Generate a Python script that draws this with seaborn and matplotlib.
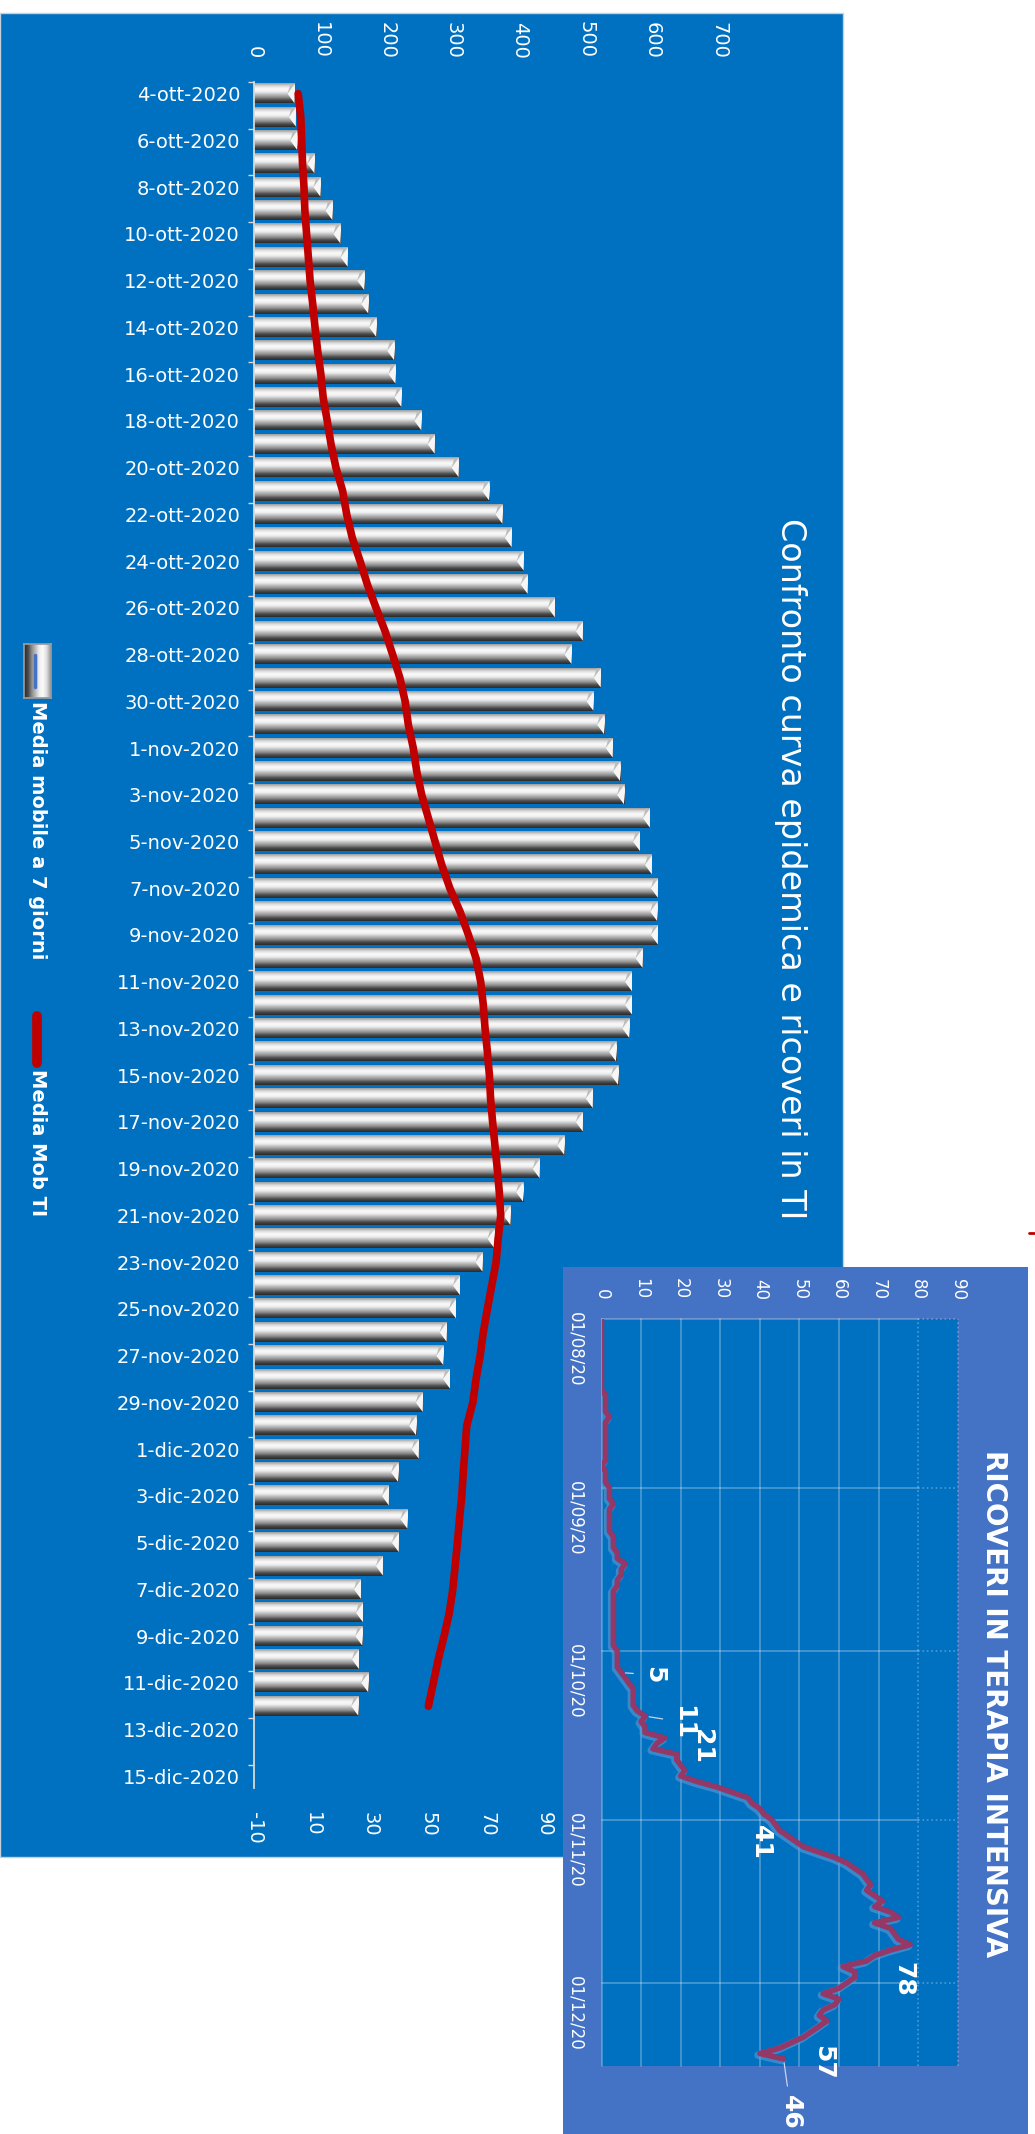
import matplotlib
matplotlib.use('Agg')
import matplotlib.pyplot as plt
import matplotlib.patheffects as pe
from matplotlib.colors import LinearSegmentedColormap
from matplotlib.patches import Rectangle, Polygon
from matplotlib.lines import Line2D
import seaborn as sns
import numpy as np
import pandas as pd

# casi: media mobile a 7 giorni (barre), dal 4-ott-2020 al 12-dic-2020
casi = [61, 63, 65, 91, 100, 118, 130, 141, 166, 172, 184, 211, 213, 222, 252, 272, 308, 354,
        374, 388, 406, 412, 453, 495, 478, 522, 511, 527, 540, 551, 557, 596, 581, 599, 608, 607,
        608, 585, 569, 569, 565, 545, 548, 510, 495, 467, 430, 405, 386, 362, 344, 310, 304, 290,
        285, 295, 254, 244, 248, 217, 203, 231, 218, 194, 161, 164, 163, 158, 172, 157]
# media mobile terapia intensiva (linea rossa, asse secondario)
media_ti = [5.2, 6.1, 6.4, 6.7, 7.2, 7.5, 8.1, 8.7, 9.3, 10.2, 11.0, 11.9, 13.0, 13.8, 15.2, 16.5, 18.2, 20.5,
            21.9, 23.8, 26.5, 29.0, 32.0, 35.1, 37.7, 40.2, 42.0, 43.1, 44.8, 46.0, 47.7, 50.0, 52.3, 54.6, 57.4, 60.9,
            63.8, 66.4, 68.0, 68.9, 69.5, 70.3, 71.0, 71.4, 72.1, 72.9, 73.7, 74.4, 74.9, 74.0, 73.3, 71.8, 70.3, 68.9,
            67.8, 66.4, 65.3, 63.2, 62.6, 62.0, 61.5, 60.7, 60.0, 59.2, 58.4, 57.2, 55.4, 53.4, 51.7, 50.0]
primo_giorno = '2020-10-04'
ultimo_giorno = '2020-12-15'
mesi_it = {10: 'ott', 11: 'nov', 12: 'dic'}
asse_sx = [0, 100, 200, 300, 400, 500, 600, 700]
asse_dx = [-10, 10, 30, 50, 70, 90, 110, 130, 150]

# ricoveri giornalieri in terapia intensiva (riquadro), dal 01/08/20
ti_ago = [0] * 14 + [1, 1, 1, 1, 2] + [1] * 8 + [0, 1, 1, 1]
ti_set = [2, 2, 2, 3, 2, 2, 2, 2, 2, 3, 3, 3, 4, 4, 6, 5, 5, 4, 4, 3, 3, 3, 3, 3, 3, 3, 3, 3, 3, 3]
ti_ott = [4, 4, 4, 4, 5, 6, 7, 8, 8, 8, 8, 9, 11, 10, 11, 11, 16, 14, 13, 19, 19, 20, 21, 20, 24,
          29, 33, 37, 38, 40, 41]
ti_nov = [43, 44, 45, 47, 49, 51, 55, 59, 62, 64, 66, 67, 68, 67, 69, 71, 69, 73, 75, 69, 73, 74,
          75, 78, 73, 69, 67, 61, 64, 64]
ti_dic = [62, 60, 56, 60, 59, 56, 55, 57, 55, 53, 51, 48, 45, 40, 46]
ti_date_tick = ['01/08/20', '01/09/20', '01/10/20', '01/11/20', '01/12/20']
ti_date_pos = [0, 31, 61, 92, 122]
ti_valori_tick = [0, 10, 20, 30, 40, 50, 60, 70, 80, 90]
# giorni con etichetta dati e spostamento dell'etichetta (valore, giorni)
etichette_giorni = [65, 73, 83, 91, 115, 129, 136]
etichette_offset = [(8.3, 0.4), (9.7, 1.1), (4.3, -4.5), (-0.7, 5.3), (-1.6, 6.3), (-1.1, 7.6), (1.9, 9.8)]
etichette_leader = [True, True, False, False, False, False, True]

BLU = '#0070C0'
BLU_RIQ = '#4472C4'
ROSSO = '#C00000'
W, H = 1035, 2134

sns.set_theme(style='white')
plt.rcParams['font.family'] = ['DejaVu Sans']
plt.rcParams['axes.unicode_minus'] = False


def fx(px):
    return px / W


def fy(py):
    return 1 - py / H


fig = plt.figure(figsize=(W / 100, H / 100), dpi=100, facecolor='white')

# sfondo del grafico principale
fig.add_artist(Rectangle((0, fy(1857)), fx(843), (1857 - 13) / H, transform=fig.transFigure,
                         facecolor=BLU, edgecolor='#c5d0da', lw=1, zorder=-1))

giorni = pd.date_range(primo_giorno, ultimo_giorno)
etichette_date = [f'{d.day}-{mesi_it[d.month]}-{d.year}' for d in giorni]
df = pd.DataFrame({'giorno': np.arange(len(casi)), 'casi': casi, 'ti': media_ti})

ax = fig.add_axes([fx(254), fy(1788), (719 - 254) / W, (1788 - 82) / H])
ax.set_facecolor('none')
sns.barplot(data=df, x='casi', y='giorno', orient='y', native_scale=True, width=0.82,
            color='#c0c0c0', errorbar=None, ax=ax)

# sfumatura argento sulle barre
argento = LinearSegmentedColormap.from_list('argento', ['#9a9a9a', '#dcdcdc', '#fafafa', '#f0f0f0',
                                                        '#bdbdbd', '#8e8e8e', '#4a4a4a', '#2a2a2a'])
grad = np.linspace(0, 1, 64).reshape(-1, 1)
punta = 10.5
for p in list(ax.patches):
    x0, y0, w, h = p.get_x(), p.get_y(), p.get_width(), p.get_height()
    p.set_alpha(0)
    ax.imshow(grad, cmap=argento, aspect='auto', extent=(x0, x0 + w, y0 + h, y0),
              origin='upper', interpolation='bicubic', zorder=2)
    ax.add_patch(Polygon([(x0 + w, y0), (x0 + w, y0 + h), (x0 + w - punta, y0 + h / 2)],
                         closed=True, facecolor='#f6f6f6', edgecolor='none', zorder=3))
    ax.add_patch(Polygon([(x0 + w, y0), (x0 + w - punta, y0 + h / 2), (x0 + w - punta * 0.6, y0)],
                         closed=True, facecolor='#bcbcbc', edgecolor='none', zorder=3))

ax2 = ax.twiny()
sns.lineplot(data=df, x='ti', y='giorno', sort=False, estimator=None, color=ROSSO, lw=5.5, ax=ax2)
ax2.lines[-1].set_solid_capstyle('round')
ax2.lines[-1].set_solid_joinstyle('round')

ax.set_xlim(asse_sx[0], asse_sx[-1])
ax.xaxis.set_ticks_position('top')
ax.xaxis.set_label_position('top')
ax.set_xticks(asse_sx)
ax.set_xticklabels([str(v) for v in asse_sx], rotation=-90, color='white', fontsize=14)
ax.tick_params(axis='x', length=0, pad=17)
ax.set_yticks(np.arange(0, len(giorni), 2))
ax.set_yticklabels(etichette_date[::2], color='white', fontsize=14)
ax.set_yticks(np.arange(-0.5, len(giorni) - 1, 2), minor=True)
ax.tick_params(axis='y', which='major', length=0, pad=10)
ax.tick_params(axis='y', which='minor', length=4.5, width=1, color='#d9d9d9', left=True)
ax.set_xlabel('')
ax.set_ylabel('')
for s in ['top', 'right', 'bottom']:
    ax.spines[s].set_visible(False)
ax.spines['left'].set_color('#d9d9d9')
ax.spines['left'].set_linewidth(1.3)

ax2.set_xlim(asse_dx[0], asse_dx[-1])
ax2.xaxis.set_ticks_position('bottom')
ax2.xaxis.set_label_position('bottom')
ax2.set_xticks(asse_dx)
ax2.set_xticklabels([str(v) for v in asse_dx], rotation=-90, color='white', fontsize=14)
ax2.tick_params(axis='x', length=0, pad=17)
ax2.set_xlabel('')
ax2.set_ylabel('')
for s in ax2.spines.values():
    s.set_visible(False)
ax.set_ylim(len(giorni) - 0.5, -0.5)

fig.text(fx(790), fy(869), 'Confronto curva epidemica e ricoveri in TI', rotation=-90,
         ha='center', va='center', fontsize=24, color='white')

# legenda (ruotata come il grafico)
axl = fig.add_axes([fx(24), fy(698), 27 / W, 54 / H])
axl.imshow(np.linspace(0, 1, 32).reshape(1, -1), cmap=argento.reversed(), aspect='auto',
           interpolation='bicubic', extent=(0, 1, 0, 1))
axl.plot([0.42, 0.42], [0.2, 0.8], color='#4472C4', lw=2.5)
axl.set_xlim(0, 1)
axl.set_ylim(0, 1)
axl.set_xticks([])
axl.set_yticks([])
for s in axl.spines.values():
    s.set_color('#9a9a9a')
fig.text(fx(37), fy(701), 'Media mobile a 7 giorni', rotation=-90, ha='center', va='top',
         fontsize=14, fontweight='bold', color='white')
fig.add_artist(Line2D([fx(37), fx(37)], [fy(1016), fy(1063)], color=ROSSO, lw=7,
                      solid_capstyle='round'))
fig.text(fx(37), fy(1069), 'Media Mob TI', rotation=-90, ha='center', va='top',
         fontsize=14, fontweight='bold', color='white')

# piccolo segno rosso sul bordo destro
fig.add_artist(Line2D([fx(1029), fx(1034)], [fy(1233), fy(1233)], color=ROSSO, lw=2))

# riquadro: ricoveri in terapia intensiva
axbg = fig.add_axes([fx(563), 0, (1028 - 563) / W, (H - 1267) / H])
axbg.set_facecolor(BLU_RIQ)
axbg.set_xticks([])
axbg.set_yticks([])
for s in axbg.spines.values():
    s.set_visible(False)

ti = ti_ago + ti_set + ti_ott + ti_nov + ti_dic
dti = pd.DataFrame({'giorno': np.arange(len(ti)), 'ti': ti})

axi = fig.add_axes([fx(601.5), fy(2066), (957.7 - 601.5) / W, (2066 - 1319) / H])
axi.set_facecolor(BLU)
axi.set_xlim(0, 90)
axi.set_ylim(137.3, 0)
griglia = dict(color='white', alpha=0.3, lw=1.2, zorder=1)
for v in ti_valori_tick:
    axi.axvline(v, ls='-' if v < 80 else ':', clip_on=False, **griglia)
for d in ti_date_pos:
    axi.plot([0, 80], [d, d], ls='-', clip_on=False, **griglia)
    axi.plot([80, 90], [d, d], ls=':', clip_on=False, **griglia)

sns.lineplot(data=dti, x='ti', y='giorno', sort=False, estimator=None, color='#9a3462',
             lw=4, alpha=0.95, ax=axi, zorder=3)
axi.lines[-1].set_path_effects([pe.SimpleLineShadow(offset=(-1.2, -1.2), shadow_color='#5b9bd5',
                                                    alpha=0.6, linewidth=5.5), pe.Normal()])
axi.lines[-1].set_solid_joinstyle('round')

for g, (ox, oy), lead in zip(etichette_giorni, etichette_offset, etichette_leader):
    val = ti[g]
    axi.annotate(str(val), xy=(val, g), xytext=(val + ox, g + oy), rotation=-90,
                 ha='center', va='center', fontsize=18, fontweight='bold', color='white',
                 annotation_clip=False,
                 arrowprops=dict(arrowstyle='-', color='#c8d4ec', lw=0.9, shrinkA=4, shrinkB=3)
                 if lead else None)

axi.xaxis.tick_top()
axi.set_xticks(ti_valori_tick)
axi.set_xticklabels([str(v) for v in ti_valori_tick], rotation=-90, color='white', fontsize=12)
axi.set_yticks(ti_date_pos)
axi.set_yticklabels(ti_date_tick, rotation=-90, color='white', fontsize=12)
axi.tick_params(axis='x', length=0, pad=14)
axi.tick_params(axis='y', length=0, pad=12)
axi.set_xlabel('')
axi.set_ylabel('')
for s in axi.spines.values():
    s.set_visible(False)

fig.text(fx(994), fy(1704), 'RICOVERI IN TERAPIA INTENSIVA', rotation=-90, ha='center',
         va='center', fontsize=20, fontweight='bold', color='white')

fig.savefig('out.png', dpi=100, facecolor='white')
